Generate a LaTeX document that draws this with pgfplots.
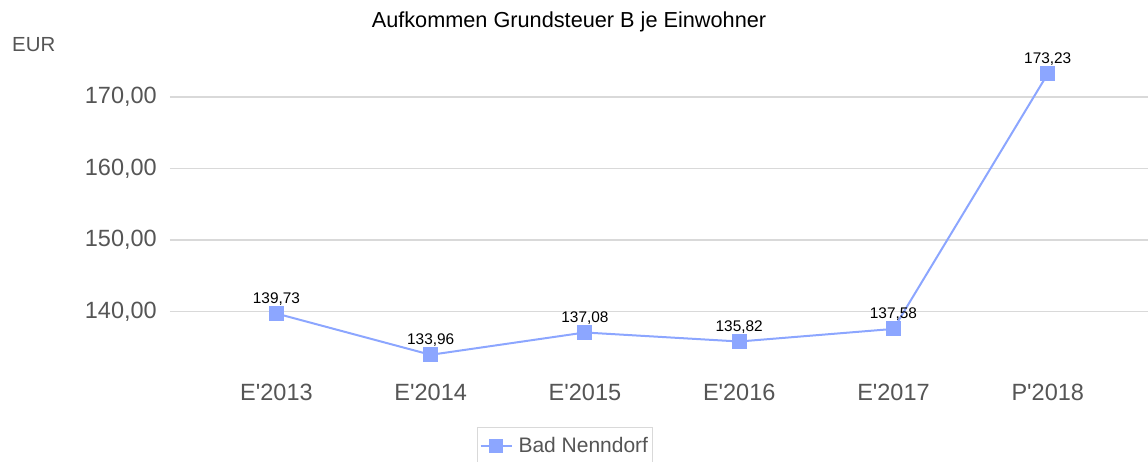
\documentclass[border=0pt]{standalone}
\usepackage{fontspec}
\setmainfont{Liberation Sans}
\usepackage{pgfplots}
\pgfplotsset{compat=1.18}
\definecolor{linec}{RGB}{140,166,255}
\definecolor{tickc}{RGB}{85,85,85}
\definecolor{gridc}{RGB}{217,217,217}
\begin{document}
\begin{tikzpicture}
\useasboundingbox (-170pt,-86pt) rectangle (978pt,376pt);
\begin{axis}[
  scale only axis, width=978pt, height=322pt,
  xmin=-0.69, xmax=5.65, ymin=131, ymax=176,
  axis line style={draw=none},
  major tick length=0pt,
  ymajorgrids, grid style={gridc, line width=1.2pt},
  xtick={0,1,2,3,4,5},
  xticklabels={E\textquotesingle 2013,E\textquotesingle 2014,E\textquotesingle 2015,E\textquotesingle 2016,E\textquotesingle 2017,P\textquotesingle 2018},
  ytick={140,150,160,170},
  /pgf/number format/.cd, fixed, fixed zerofill, precision=2, use comma, 1000 sep={}, assume math mode=true,
  /pgfplots/.cd,
  ticklabel style={font=\fontsize{23.5}{28}\selectfont, text=tickc},
  yticklabel style={anchor=east, inner sep=0pt, xshift=-13pt},
  xticklabel style={anchor=north, inner sep=0pt, yshift=-8pt},
  nodes near coords,
  every node near coord/.append style={font=\fontsize{15.4}{18}\selectfont, text=black, anchor=south, inner sep=0pt, yshift=8.5pt},
  legend style={at={(0.3139,-0.1584)}, anchor=north west, draw=gridc, line width=1pt,
     font=\fontsize{21}{25}\selectfont, text=tickc, inner xsep=2pt, inner ysep=8pt, column sep=4pt},
  legend cell align=left,
]
\addplot[color=linec, line width=2pt, mark=square*, mark size=7pt,
  mark options={fill=linec, draw=linec, line width=0pt},
  legend image code/.code={
    \draw[color=linec, line width=2pt] (0pt,0pt) -- (31pt,0pt);
    \fill[linec] (9.5pt,-6pt) rectangle (21.5pt,6pt);
  }]
  coordinates {(0,139.73) (1,133.96) (2,137.08) (3,135.82) (4,137.58) (5,173.23)};
\addlegendentry{Bad Nenndorf}
\end{axis}
\node[font=\fontsize{21.7}{26}\selectfont, anchor=base] at (399pt,348pt) {Aufkommen Grundsteuer B je Einwohner};
\node[font=\fontsize{20.4}{24}\selectfont, text=tickc, anchor=base west, inner sep=0pt] at (-158pt,324pt) {EUR};
\end{tikzpicture}
\end{document}
